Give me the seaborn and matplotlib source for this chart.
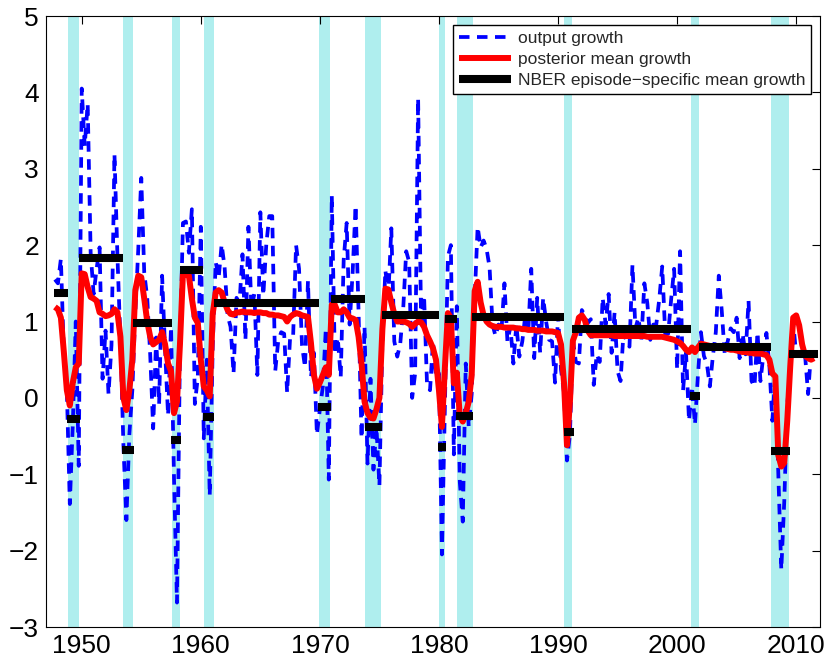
import numpy as np
import pandas as pd
import matplotlib
matplotlib.use("Agg")
import matplotlib.pyplot as plt
import seaborn as sns

# ---------------- data ----------------
first_quarter = 1947.75  # 1947Q4, quarterly observations

output_growth = [
    1.55,
    1.50, 1.82, 0.57, 0.10,
    -1.39, -0.35, 1.00, -0.89,
    4.05, 3.30, 3.85, 1.90,
    1.36, 1.69, 1.97, 0.25,
    0.88, 0.05, 0.69, 3.19,
    1.85, 0.76, -0.61, -1.60,
    -0.48, 0.10, 1.12, 1.95,
    2.88, 1.64, 1.31, 0.57,
    -0.40, 0.79, -0.08, 1.60,
    0.64, -0.23, 0.93, -1.05,
    -2.68, 0.64, 2.29, 2.31,
    1.90, 2.47, -0.08, 0.27,
    2.24, -0.53, 0.50, -1.28,
    0.67, 1.78, 1.57, 2.01,
    1.71, 1.08, 0.93, 0.32,
    1.31, 1.24, 1.88, 0.76,
    2.24, 1.17, 1.36, 0.30,
    2.43, 1.34, 2.01, 2.38,
    2.38, 0.35, 0.74, 0.86,
    0.84, 0.07, 0.79, 0.79,
    2.00, 1.69, 0.69, 0.40,
    1.53, 0.27, 0.59, -0.48,
    -0.15, 0.15, 0.91, -1.07,
    2.65, 0.57, 0.79, 0.27,
    1.81, 2.29, 0.96, 1.64,
    2.52, 1.12, -0.53, 0.93,
    -0.86, 0.25, -0.94, -0.38,
    -1.15, 0.76, 1.67, 1.34,
    2.22, 0.74, 0.54, 0.71,
    1.17, 1.92, 1.78, 0.00,
    0.32, 3.92, 1.00, 1.34,
    0.17, 0.10, 0.74, 0.25,
    0.32, -2.05, -0.13, 1.85,
    2.00, -0.74, 1.20, -1.10,
    -1.62, 0.45, -0.38, 0.05,
    1.31, 2.24, 1.97, 2.06,
    1.95, 1.71, 0.96, 0.81,
    0.96, 0.88, 1.50, 0.74,
    0.93, 0.45, 0.96, 0.54,
    0.74, 1.08, 0.86, 1.69,
    0.52, 1.31, 0.59, 1.31,
    1.00, 0.76, 0.74, 0.20,
    1.08, 0.37, 0.07, -0.82,
    -0.48, 0.76, 0.47, 0.45,
    1.15, 1.08, 0.98, 1.03,
    0.17, 0.57, 0.47, 1.31,
    0.96, 1.36, 0.59, 1.12,
    0.35, 0.22, 0.86, 0.74,
    0.67, 1.74, 0.91, 1.05,
    0.76, 1.50, 1.24, 0.76,
    0.96, 0.96, 1.29, 1.72,
    0.84, 0.84, 1.29, 1.69,
    0.37, 1.92, 0.10, 0.59,
    -0.30, 0.15, -0.35, 0.30,
    0.86, 0.55, 0.45, 0.15,
    0.54, 0.86, 1.60, 1.14,
    0.57, 0.74, 0.91, 0.86,
    1.05, 0.52, 0.84, 0.57,
    1.27, 0.22, 0.15, 0.86,
    0.22, 0.57, 0.85, 0.42,
    -0.30, 0.32, -1.00, -2.25,
    -1.35, -0.10, 0.40, 0.98,
    0.57, 0.55, 0.63, 0.55,
    0.05, 0.60, 0.50,
]

posterior_mean = [
    1.19,
    1.16, 1.05, 0.60, 0.10,
    -0.10, 0.20, 0.40, 0.45,
    1.63, 1.62, 1.45, 1.32,
    1.30, 1.27, 1.12, 1.10,
    1.07, 1.08, 1.10, 1.16,
    1.12, 0.80, 0.00, -0.16,
    0.10, 0.50, 1.41, 1.60,
    1.58, 1.30, 1.00, 0.80,
    0.70, 0.73, 0.76, 0.86,
    0.70, 0.45, 0.35, -0.20,
    -0.05, 0.70, 1.63, 1.62,
    1.60, 1.30, 1.05, 0.98,
    0.50, 0.15, 0.10, 0.02,
    1.10, 1.38, 1.41, 1.38,
    1.25, 1.15, 1.10, 1.09,
    1.12, 1.12, 1.13, 1.12,
    1.12, 1.12, 1.11, 1.12,
    1.12, 1.11, 1.11, 1.09,
    1.09, 1.08, 1.08, 1.07,
    1.06, 1.00, 1.06, 1.09,
    1.11, 1.10, 1.08, 1.07,
    1.06, 0.72, 0.30, 0.12,
    0.20, 0.30, 0.40, 0.30,
    1.22, 1.22, 1.12, 1.12,
    1.16, 1.12, 1.05, 1.04,
    1.02, 0.80, 0.45, -0.05,
    -0.20, -0.26, -0.27, -0.15,
    0.00, 0.90, 1.43, 1.42,
    1.25, 1.10, 1.00, 1.00,
    1.00, 0.99, 0.97, 0.93,
    0.97, 1.00, 0.99, 0.93,
    0.82, 0.74, 0.65, 0.50,
    0.10, -0.38, 0.40, 1.11,
    1.05, 0.19, 0.33, -0.24,
    -0.31, -0.20, -0.05, 0.30,
    1.40, 1.52, 1.25, 1.08,
    1.00, 0.96, 0.94, 0.93,
    0.93, 0.93, 0.92, 0.92,
    0.92, 0.92, 0.91, 0.91,
    0.90, 0.90, 0.89, 0.89,
    0.89, 0.88, 0.88, 0.88,
    0.87, 0.87, 0.87, 0.86,
    0.85, 0.70, 0.20, -0.62,
    -0.05, 0.75, 0.86, 1.05,
    1.08, 1.02, 0.88, 0.82,
    0.82, 0.82, 0.82, 0.82,
    0.82, 0.82, 0.82, 0.81,
    0.81, 0.81, 0.81, 0.81,
    0.81, 0.81, 0.81, 0.81,
    0.81, 0.81, 0.80, 0.80,
    0.80, 0.80, 0.80, 0.80,
    0.79, 0.78, 0.77, 0.76,
    0.74, 0.72, 0.68, 0.63,
    0.60, 0.66, 0.60, 0.66,
    0.71, 0.70, 0.69, 0.68,
    0.67, 0.67, 0.66, 0.66,
    0.65, 0.64, 0.63, 0.63,
    0.62, 0.61, 0.60, 0.60,
    0.59, 0.59, 0.58, 0.58,
    0.58, 0.57, 0.56, 0.50,
    0.32, 0.28, -0.75, -0.90,
    -0.85, -0.30, 0.41, 1.05,
    1.08, 0.95, 0.70, 0.55,
    0.52, 0.50, 0.52,
]

# NBER recessions (peak month -> trough month, fractional years)
recession_start = [1948.83, 1953.50, 1957.58, 1960.25, 1969.92, 1973.83,
                   1980.00, 1981.50, 1990.50, 2001.17, 2007.92]
recession_end = [1949.75, 1954.33, 1958.25, 1961.08, 1970.83, 1975.17,
                 1980.50, 1982.83, 1991.17, 2001.83, 2009.42]

# NBER episode-specific mean growth
episode_start = [1947.65, 1948.77, 1949.75, 1953.40, 1954.30, 1957.50,
                 1958.25, 1960.20, 1961.10, 1969.85, 1970.90, 1973.75,
                 1975.20, 1979.93, 1980.50, 1981.40, 1982.80, 1990.50,
                 1991.20, 2001.10, 2001.85, 2007.85, 2009.40]
episode_end = [1948.83, 1949.83, 1953.48, 1954.40, 1957.60, 1958.30,
               1960.20, 1961.10, 1969.90, 1970.90, 1973.80, 1975.20,
               1980.00, 1980.60, 1981.50, 1982.90, 1990.50, 1991.30,
               2001.20, 2001.90, 2007.90, 2009.50, 2011.80]
episode_mean = [1.37, -0.28, 1.83, -0.68, 0.98, -0.55,
                1.67, -0.25, 1.24, -0.12, 1.30, -0.38,
                1.09, -0.64, 1.03, -0.24, 1.06, -0.45,
                0.90, 0.02, 0.66, -0.69, 0.58]

x_ticks = [1950, 1960, 1970, 1980, 1990, 2000, 2010]
y_ticks = [-3, -2, -1, 0, 1, 2, 3, 4, 5]
legend_labels = ["output growth", "posterior mean growth",
                 "NBER episode\u2212specific mean growth"]

# ---------------- tables ----------------
dates = first_quarter + 0.25 * np.arange(len(output_growth))
series = pd.DataFrame({"date": dates,
                       "output": output_growth,
                       "posterior": posterior_mean})
episodes = pd.DataFrame({
    "episode": np.repeat(np.arange(len(episode_mean)), 2),
    "date": np.ravel(np.column_stack([episode_start, episode_end])),
    "mean": np.repeat(episode_mean, 2),
})

# ---------------- plot ----------------
sns.set_style("white")
plt.rcParams["font.family"] = ["Liberation Sans", "DejaVu Sans"]
plt.rcParams["axes.unicode_minus"] = True

fig = plt.figure(figsize=(8.3, 6.62), dpi=100)
ax = fig.add_axes([0.05542, 0.05287, 0.93253, 0.92296])

for s, e in zip(recession_start, recession_end):
    ax.axvspan(s, e, color="#afeeee", lw=0, zorder=0)

sns.lineplot(data=series, x="date", y="output", ax=ax, color="blue",
             lw=2.7, zorder=2, label=legend_labels[0])
ax.get_lines()[-1].set_dashes([2.8, 2.0])

sns.lineplot(data=series, x="date", y="posterior", ax=ax, color="red",
             lw=4.3, zorder=3, label=legend_labels[1],
             solid_joinstyle="round", solid_capstyle="butt")

sns.lineplot(data=episodes, x="date", y="mean", units="episode",
             estimator=None, sort=False, ax=ax, color="black", lw=5.8,
             zorder=4, label=legend_labels[2], solid_capstyle="butt")

ax.set_xlim(1947, 2012)
ax.set_ylim(-3, 5)
ax.set_xticks(x_ticks)
ax.set_yticks(y_ticks)
ax.set_xlabel("")
ax.set_ylabel("")
ax.tick_params(direction="in", length=6, width=0.8, top=True, right=True,
               labelsize=19, colors="black")
ax.tick_params(axis="x", pad=5)
ax.tick_params(axis="y", pad=5)
for sp in ax.spines.values():
    sp.set_visible(True)
    sp.set_color("black")
    sp.set_linewidth(0.8)

handles, labels = ax.get_legend_handles_labels()
uniq = {}
for h, l in zip(handles, labels):
    uniq.setdefault(l, h)
leg = ax.legend([uniq[l] for l in legend_labels], legend_labels,
                loc="upper right", fontsize=12.5, frameon=True,
                fancybox=False, edgecolor="black", framealpha=1,
                handlelength=3.0, handletextpad=0.4, labelspacing=0.33,
                borderpad=0.35, borderaxespad=0.5)
leg.get_frame().set_linewidth(1.0)
leg.set_zorder(10)

fig.savefig("out.png", dpi=100)
